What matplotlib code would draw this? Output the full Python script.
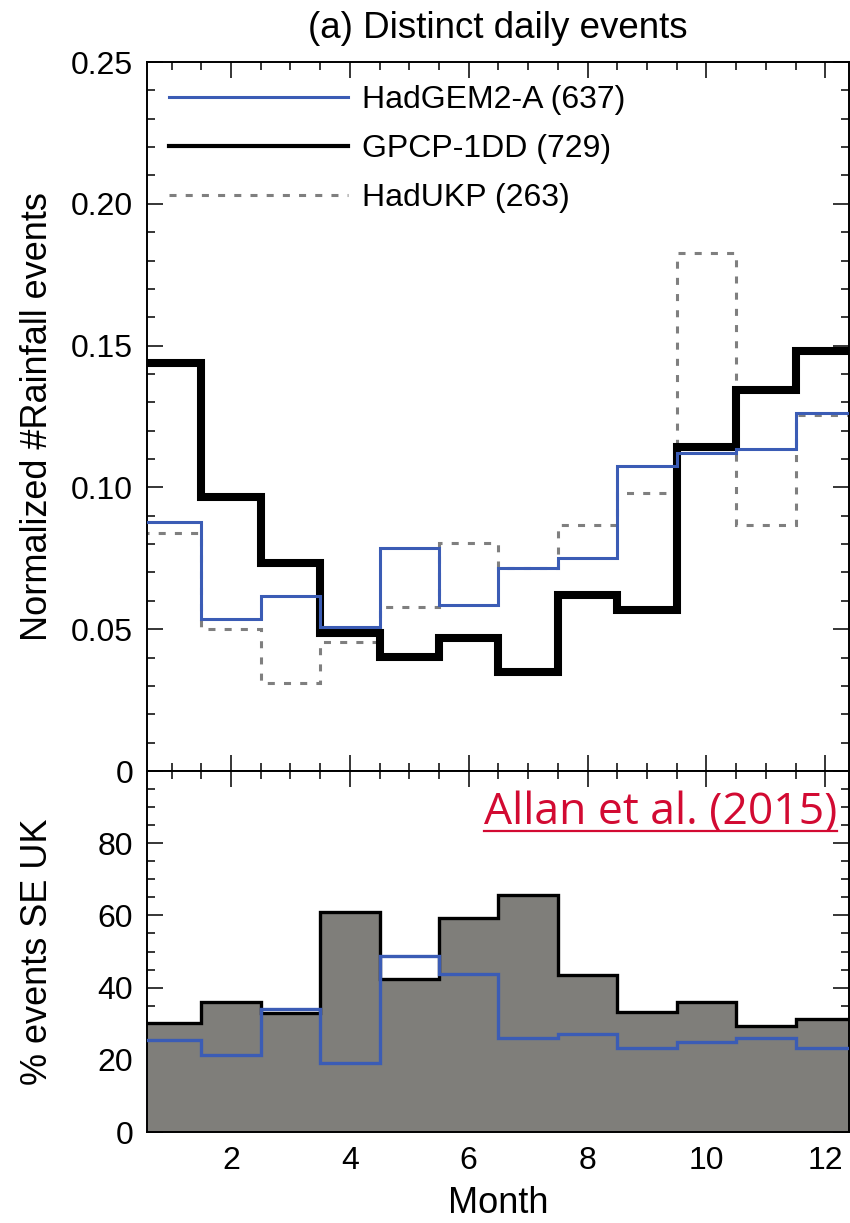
import matplotlib
matplotlib.use("Agg")
import numpy as np
import matplotlib.pyplot as plt
from matplotlib.lines import Line2D
from matplotlib.ticker import MultipleLocator, FixedLocator, FuncFormatter

plt.rcParams['font.family'] = ['Liberation Sans', 'DejaVu Sans']

# Monthly data
months = np.arange(1, 13)
hadgem = [0.0877, 0.0535, 0.0616, 0.0507, 0.0785, 0.0585, 0.0715, 0.0750, 0.1074, 0.1123, 0.1137, 0.1264]
gpcp = [0.1440, 0.0965, 0.0732, 0.0486, 0.0401, 0.0468, 0.0349, 0.0620, 0.0567, 0.1141, 0.1342, 0.1482]
hadukp = [0.0838, 0.0500, 0.0310, 0.0454, 0.0577, 0.0803, 0.0715, 0.0866, 0.0982, 0.1827, 0.0866, 0.1254]

pct_gpcp = [30.2, 36.0, 33.0, 60.9, 42.4, 59.3, 65.7, 43.5, 33.2, 36.0, 29.4, 31.3]
pct_hadgem = [25.5, 21.3, 34.1, 19.1, 48.8, 43.8, 26.0, 27.1, 23.3, 24.9, 26.0, 23.3]

labels = ["HadGEM2-A (637)", "GPCP-1DD (729)", "HadUKP (263)"]

blue = '#3b5cb5'
grey_line = '#7f7f7f'
grey_fill = '#7f7e7a'

edges = np.append(months - 0.5, months[-1] + 0.5)

fig = plt.figure(figsize=(8.5, 12.23), dpi=100)
gs = fig.add_gridspec(2, 1, height_ratios=[709, 361], hspace=0,
                      left=0.173, right=0.9988, top=0.9493, bottom=0.0744)
ax1 = fig.add_subplot(gs[0])
ax2 = fig.add_subplot(gs[1], sharex=ax1)

# top panel
ax1.stairs(hadukp, edges, baseline=None, color=grey_line, lw=2.2,
           linestyle=(0, (2.3, 3.0)), zorder=2)
ax1.stairs(gpcp, edges, baseline=None, color='black', lw=5.8, zorder=3)
ax1.stairs(hadgem, edges, baseline=None, color=blue, lw=2.2, zorder=4)

ax1.set_ylim(0, 0.25)
ax1.set_xlim(0.586, 12.4)
ax1.yaxis.set_major_locator(MultipleLocator(0.05))
ax1.yaxis.set_minor_locator(MultipleLocator(0.01))
ax1.yaxis.set_major_formatter(FuncFormatter(lambda v, p: '0' if abs(v) < 1e-9 else f'{v:.2f}'))
ax1.set_ylabel('Normalized #Rainfall events', fontsize=26)
ax1.set_title('(a) Distinct daily events', fontsize=26.5, pad=17)

handles = [Line2D([], [], color=blue, lw=2.2),
           Line2D([], [], color='black', lw=3.0),
           Line2D([], [], color=grey_line, lw=2.2, linestyle=(0, (2.3, 3.0)))]
ax1.legend(handles, labels, loc='upper left', bbox_to_anchor=(0.031, 0.968),
           frameon=False, fontsize=23, handlelength=5.6, handletextpad=0.45,
           labelspacing=0.6, borderpad=0, borderaxespad=0)

# bottom panel
ax2.set_axisbelow(True)
ax2.stairs(pct_gpcp, edges, baseline=0, fill=True, color=grey_fill, lw=0, zorder=1)
ax2.stairs(pct_gpcp, edges, baseline=None, color='black', lw=2.4, zorder=3)
ax2.stairs(pct_hadgem, edges, baseline=None, color=blue, lw=2.4, zorder=4)
ax2.set_ylim(0, 100)
ax2.yaxis.set_major_locator(MultipleLocator(20))
ax2.yaxis.set_minor_locator(MultipleLocator(5))
ax2.yaxis.set_major_formatter(FuncFormatter(lambda v, p: '' if v > 99 else f'{v:.0f}'))
ax2.set_ylabel('% events SE UK', fontsize=26)
ax2.set_xlabel('Month', fontsize=26, labelpad=7)

ax1.xaxis.set_major_locator(FixedLocator([2, 4, 6, 8, 10, 12]))
ax1.xaxis.set_minor_locator(MultipleLocator(0.5))

for ax in (ax1, ax2):
    ax.tick_params(which='both', direction='in', top=True, right=True,
                   labelsize=23, width=1.1, pad=10)
    ax.tick_params(which='major', length=11.5)
    ax.tick_params(which='minor', length=5.5)
    for s in ax.spines.values():
        s.set_linewidth(1.4)
    ax.yaxis.set_label_coords(-0.131, 0.5)
ax1.tick_params(labelbottom=False)

# citation label with underline
txt = ax2.text(0.983, 0.853, 'Allan et al. (2015)', transform=ax2.transAxes,
               ha='right', va='baseline', fontsize=32, family=['Open Sans', 'DejaVu Sans'],
               color='#d20a32')
fig.canvas.draw()
bb = txt.get_window_extent().transformed(fig.transFigure.inverted())
base = ax2.transAxes.transform((0, 0.853))[1]
uy = fig.transFigure.inverted().transform((0, base - 7))[1]
fig.add_artist(Line2D([bb.x0, bb.x1], [uy, uy], transform=fig.transFigure,
                      color='#d20a32', lw=1.6))

fig.savefig('out.png', dpi=100)
